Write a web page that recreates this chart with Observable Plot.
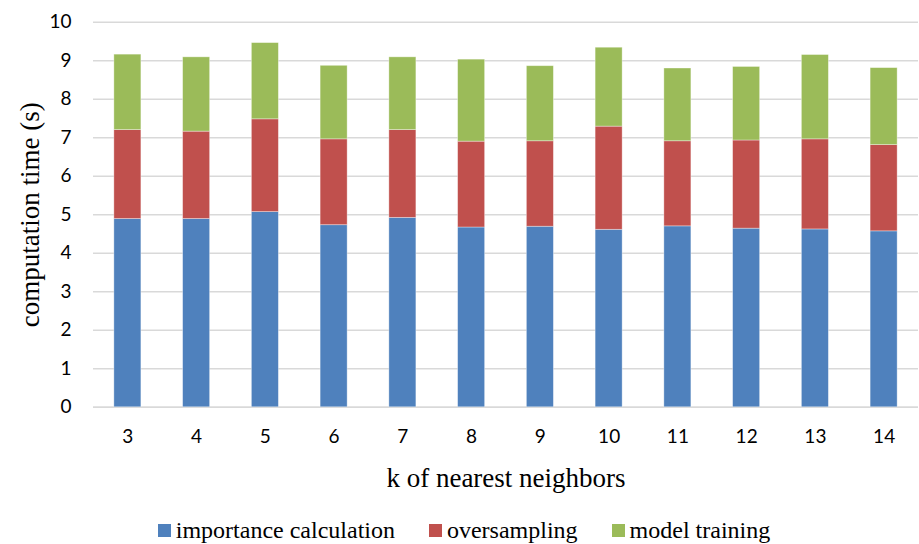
<!DOCTYPE html>
<html>
<head>
<meta charset="utf-8">
<script src="https://cdn.jsdelivr.net/npm/d3@7"></script>
<script src="https://cdn.jsdelivr.net/npm/@observablehq/plot@0.6"></script>
<style>
  html, body { margin: 0; padding: 0; background: #fff; }
  #chart { width: 919px; }
  .legend {
    display: flex; justify-content: center; align-items: center;
    height: 36px; margin-top: 4px;
    font-family: "Liberation Serif", "Times New Roman", serif;
    font-size: 24px; color: #000;
    padding-left: 9px;
  }
  .legend .item { display: flex; align-items: center; margin: 0 17px; }
  .legend .sw { width: 13px; height: 13px; margin-right: 5px; }
  .legend .txt { font-family: "Liberation Serif", "Times New Roman", serif; }
</style>
</head>
<body>
<div id="chart"></div>
<script>
// k of nearest neighbors
const ks = [3, 4, 5, 6, 7, 8, 9, 10, 11, 12, 13, 14];

// computation time per stage, seconds
const importanceCalc = [4.89, 4.89, 5.07, 4.73, 4.92, 4.67, 4.69, 4.61, 4.70, 4.64, 4.62, 4.57];
const oversampling   = [2.31, 2.27, 2.41, 2.23, 2.28, 2.23, 2.22, 2.68, 2.21, 2.29, 2.34, 2.24];
const modelTraining  = [1.96, 1.93, 1.98, 1.91, 1.89, 2.13, 1.95, 2.05, 1.89, 1.91, 2.19, 2.00];

const seriesNames = ["importance calculation", "oversampling", "model training"];
const seriesColors = ["#4F81BD", "#C0504D", "#9BBB59"];
const yTicks = [0, 1, 2, 3, 4, 5, 6, 7, 8, 9, 10];

// long-form table, bottom segment first
const rows = [];
[importanceCalc, oversampling, modelTraining].forEach((vals, si) => {
  ks.forEach((k, i) => rows.push({k: String(k), stage: seriesNames[si], time: vals[i]}));
});

const serif = "'Liberation Serif', 'Times New Roman', serif";

const chart = Plot.plot({
  width: 919,
  height: 508,
  marginTop: 21.8,
  marginBottom: 101.2,
  marginLeft: 93,
  marginRight: 1,
  style: {fontFamily: "Lato, sans-serif", fontSize: "19px", color: "#000", background: "#fff"},
  x: {type: "band", domain: ks.map(String), paddingInner: 0.607, paddingOuter: 0.3035, round: false, label: null},
  y: {domain: [0, 10], label: null},
  color: {domain: seriesNames, range: seriesColors},
  marks: [
    Plot.gridY(yTicks, {stroke: "#d9d9d9", strokeOpacity: 1, strokeWidth: 1.5}),
    Plot.ruleY([0], {stroke: "#d9d9d9", strokeWidth: 1.5}),
    Plot.barY(rows, Plot.stackY({
      x: "k", y: "time", fill: "stage", z: "stage",
      order: seriesNames,
      stroke: "#fff", strokeOpacity: 0.45, strokeWidth: 0.8
    })),
    Plot.axisY(yTicks, {tickSize: 0, tickPadding: 22, label: null, fill: "#000", fontSize: 19}),
    Plot.axisX({tickSize: 0, tickPadding: 22, label: null, fill: "#000", fontSize: 19}),
    Plot.text(["computation time (s)"], {
      frameAnchor: "left", dx: -63, rotate: -90,
      textAnchor: "middle", lineAnchor: "middle",
      fontFamily: serif, fontSize: 27, fill: "#000"
    }),
    Plot.text(["k of nearest neighbors"], {
      frameAnchor: "bottom", dy: 71,
      textAnchor: "middle", lineAnchor: "middle",
      fontFamily: serif, fontSize: 27, fill: "#000"
    })
  ]
});
document.getElementById("chart").appendChild(chart);

// legend below the plot
const legend = document.createElement("div");
legend.className = "legend";
seriesNames.forEach((name, i) => {
  const item = document.createElement("div");
  item.className = "item";
  const sw = document.createElement("span");
  sw.className = "sw";
  sw.style.background = seriesColors[i];
  const label = document.createElement("span");
  label.className = "txt";
  label.style.fontFamily = serif;
  label.textContent = name;
  item.appendChild(sw);
  item.appendChild(label);
  legend.appendChild(item);
});
document.getElementById("chart").appendChild(legend);
</script>
</body>
</html>
